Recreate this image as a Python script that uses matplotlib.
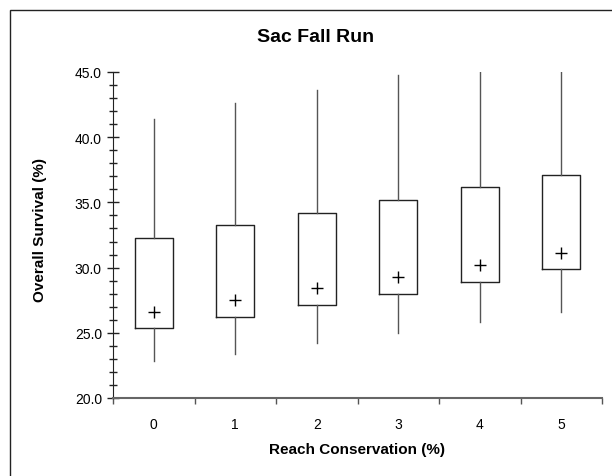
import matplotlib
matplotlib.use("Agg")
import matplotlib.pyplot as plt
from matplotlib.patches import Rectangle
from matplotlib.ticker import MultipleLocator, FixedLocator, NullFormatter

# values
categories = ["0", "1", "2", "3", "4", "5"]
whisker_low = [22.8, 23.4, 24.2, 25.0, 25.8, 26.6]
box_low = [25.4, 26.2, 27.1, 28.0, 28.9, 29.9]
box_high = [32.3, 33.3, 34.2, 35.2, 36.2, 37.1]
whisker_high = [41.4, 42.6, 43.6, 44.8, 45.0, 45.0]
means = [26.6, 27.5, 28.4, 29.3, 30.2, 31.1]

plt.rcParams["font.family"] = ["Liberation Sans", "DejaVu Sans"]

fig = plt.figure(figsize=(6.12, 4.77), dpi=100)

# outer frame (runs off the right and bottom edges)
fig.patches.append(Rectangle((10 / 612, -0.1), 1.2, 1 - 11 / 477 + 0.1,
                             transform=fig.transFigure, fill=False,
                             edgecolor="#222222", linewidth=1.0))

ax = fig.add_axes([113 / 612, 1 - 399 / 477, (602 - 113) / 612, (399 - 73) / 477])

stats = []
for i, name in enumerate(categories):
    stats.append({
        "label": name,
        "whislo": whisker_low[i],
        "q1": box_low[i],
        "med": box_low[i],
        "q3": box_high[i],
        "whishi": whisker_high[i],
        "mean": means[i],
        "fliers": [],
    })

ax.bxp(stats, positions=range(len(categories)), widths=0.47,
       showmeans=True, showcaps=False, showfliers=False,
       boxprops=dict(color="#222222", linewidth=1.0),
       whiskerprops=dict(color="#555555", linewidth=1.0),
       medianprops=dict(linewidth=0),
       meanprops=dict(marker="+", markersize=8, markeredgecolor="black",
                      markeredgewidth=1.0))

ax.set_xlim(-0.5, 5.5)
ax.set_ylim(20, 45)

ax.yaxis.set_major_locator(MultipleLocator(5))
ax.yaxis.set_minor_locator(MultipleLocator(1))
ax.set_yticklabels([f"{v:.1f}" for v in ax.get_yticks()])
ax.tick_params(axis="y", which="major", direction="inout", length=8, width=1.0,
               labelsize=10, pad=4, color="#222222")
ax.tick_params(axis="y", which="minor", direction="inout", length=6, width=1.0,
               color="#222222")

ax.set_xticks(range(len(categories)))
ax.set_xticklabels(categories)
ax.xaxis.set_minor_locator(FixedLocator([i + 0.5 for i in range(-1, 6)]))
ax.xaxis.set_minor_formatter(NullFormatter())
ax.tick_params(axis="x", which="major", length=0, labelsize=10, pad=14)
ax.tick_params(axis="x", which="minor", direction="out", length=4, width=1.0,
               color="#555555")

for side in ["top", "right"]:
    ax.spines[side].set_visible(False)
ax.spines["left"].set_color("#222222")
ax.spines["bottom"].set_color("#666666")
ax.spines["bottom"].set_linewidth(1.5)

fig.text(316 / 612, 1 - 38 / 477, "Sac Fall Run", ha="center", va="center",
         fontsize=14, fontweight="bold")
fig.text(40 / 612, 1 - 230 / 477, "Overall Survival (%)", ha="center",
         va="center", rotation=90, fontsize=11, fontweight="bold")
fig.text(357 / 612, 1 - 450 / 477, "Reach Conservation (%)", ha="center",
         va="center", fontsize=11, fontweight="bold")

fig.savefig("out.png", dpi=100)
